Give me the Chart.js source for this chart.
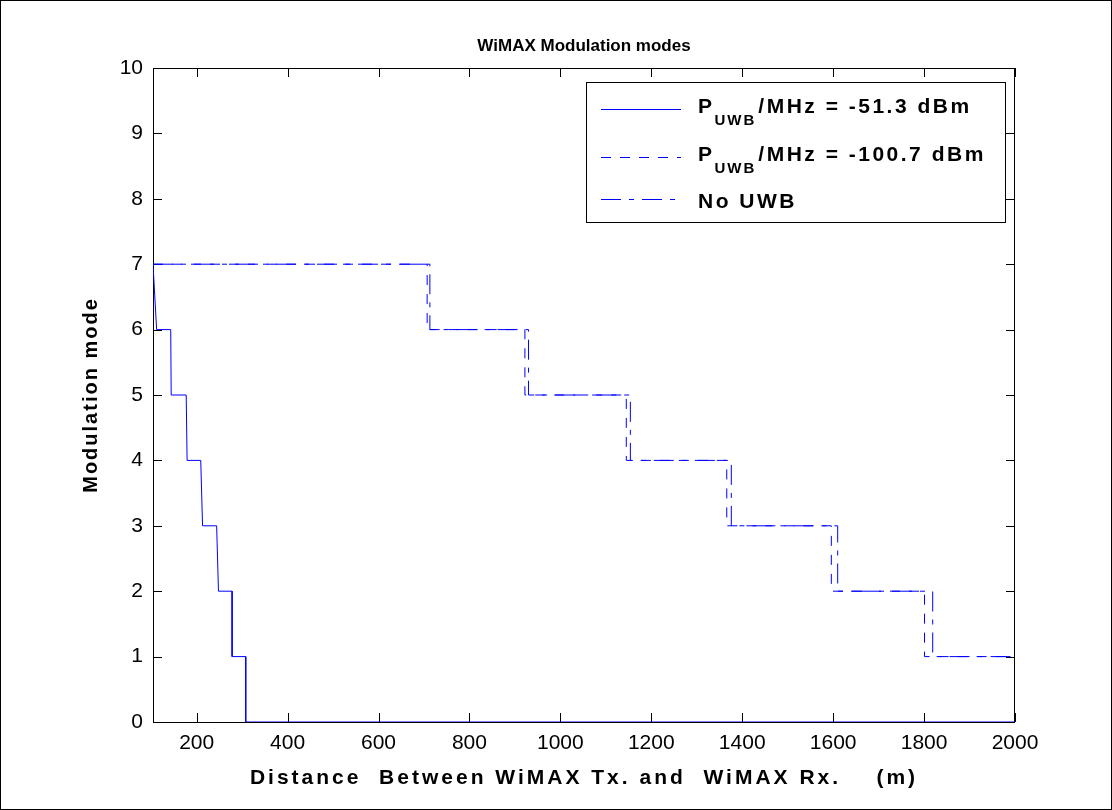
<!DOCTYPE html>
<html>
<head>
<meta charset="utf-8">
<title>WiMAX Modulation modes</title>
<script src="https://cdn.jsdelivr.net/npm/chart.js@4/dist/chart.umd.min.js"></script>
<style>
  html, body { margin: 0; padding: 0; background: #fff; }
</style>
</head>
<body>
<canvas id="modes" width="1112" height="810"></canvas>
<script>
// distance (m) / modulation mode pairs
const dist51 = [104, 112, 143, 144, 177, 179, 209, 213, 244, 248, 278, 278, 308, 308, 2000];
const mode51 = [7, 6, 6, 5, 5, 4, 4, 3, 3, 2, 2, 1, 1, 0, 0];

const dist100 = [104, 707, 707, 922, 922, 1145, 1145, 1366, 1366, 1596, 1596, 1801, 1801, 2000];
const mode100 = [7, 7, 6, 6, 5, 5, 4, 4, 3, 3, 2, 2, 1, 1];

const distNoUwb = [104, 713, 713, 930, 930, 1154, 1154, 1376, 1376, 1610, 1610, 1819, 1819, 2000];
const modeNoUwb = [7, 7, 6, 6, 5, 5, 4, 4, 3, 3, 2, 2, 1, 1];

const xTicks = [200, 400, 600, 800, 1000, 1200, 1400, 1600, 1800, 2000];
const yTicks = [0, 1, 2, 3, 4, 5, 6, 7, 8, 9, 10];

// legend entries: [main text, subscript, rest]
const legendLabels = [
  ["P", "UWB", "/MHz = -51.3 dBm"],
  ["P", "UWB", "/MHz = -100.7 dBm"],
  ["No UWB", "", ""],
];

const chartTitle = "WiMAX Modulation modes";
const xTitle = "Distance  Between WiMAX Tx. and  WiMAX Rx.    (m)";
const yTitle = "Modulation mode";

const FONT = '"Liberation Sans", Arial, Helvetica, sans-serif';
const BLUE = "#0000ff";
const dashes = [[], [10, 9], [20, 8, 5, 8]];

const toPoints = (xs, ys) => xs.map((d, i) => ({ x: d, y: ys[i] }));

const matlabBox = {
  id: "matlabBox",
  beforeDatasetsDraw(chart) {
    const { ctx, chartArea: a, scales: { x, y } } = chart;
    ctx.save();
    ctx.strokeStyle = "#000";
    ctx.lineWidth = 1;
    ctx.strokeRect(a.left + 0.5, a.top + 0.5, a.right - a.left - 1, a.bottom - a.top);
    ctx.beginPath();
    xTicks.forEach((v) => {
      const px = Math.round(x.getPixelForValue(v)) + 0.5;
      ctx.moveTo(px, a.bottom);
      ctx.lineTo(px, a.bottom - 9);
      ctx.moveTo(px, a.top);
      ctx.lineTo(px, a.top + 9);
    });
    yTicks.forEach((v) => {
      const py = Math.round(y.getPixelForValue(v)) + 0.5;
      ctx.moveTo(a.left, py);
      ctx.lineTo(a.left + 9, py);
      ctx.moveTo(a.right, py);
      ctx.lineTo(a.right - 9, py);
    });
    ctx.stroke();
    ctx.restore();
  },
  afterDraw(chart) {
    const { ctx, chartArea: a } = chart;
    const midX = (a.left + a.right) / 2;
    ctx.save();
    ctx.fillStyle = "#000";
    ctx.textBaseline = "alphabetic";
    ctx.textAlign = "center";

    // title
    ctx.font = "bold 17px " + FONT;
    ctx.letterSpacing = "0px";
    ctx.fillText(chartTitle, midX, 51);

    // axis titles (spaced out like the exported figure)
    ctx.font = "bold 21px " + FONT;
    ctx.letterSpacing = "3px";
    ctx.fillText(xTitle, midX, 784);
    ctx.font = "bold 20px " + FONT;
    ctx.letterSpacing = "2px";
    ctx.save();
    ctx.translate(97, (a.top + a.bottom) / 2);
    ctx.rotate(-Math.PI / 2);
    ctx.fillText(yTitle, 0, 0);
    ctx.restore();

    // legend box
    const bx = 586.5, by = 82.5, bw = 419, bh = 140;
    ctx.fillStyle = "#fff";
    ctx.fillRect(bx, by, bw, bh);
    ctx.strokeStyle = "#000";
    ctx.lineWidth = 1;
    ctx.strokeRect(bx, by, bw, bh);

    const lineY = [109.5, 157.5, 199.5];
    const textY = [113, 161, 208];
    ctx.textAlign = "left";
    chart.data.datasets.forEach((ds, i) => {
      ctx.strokeStyle = ds.borderColor;
      ctx.setLineDash(ds.borderDash || []);
      ctx.beginPath();
      ctx.moveTo(601, lineY[i]);
      ctx.lineTo(681, lineY[i]);
      ctx.stroke();
      ctx.setLineDash([]);

      const [main, sub, rest] = legendLabels[i];
      let tx = 698;
      ctx.fillStyle = "#000";
      ctx.font = "bold 21px " + FONT;
      ctx.letterSpacing = "2.5px";
      ctx.fillText(main, tx, textY[i]);
      tx += ctx.measureText(main).width;
      if (sub) {
        ctx.font = "bold 15px " + FONT;
        ctx.letterSpacing = "2px";
        ctx.fillText(sub, tx, textY[i] + 12);
        tx += ctx.measureText(sub).width + 2;
        ctx.font = "bold 21px " + FONT;
        ctx.letterSpacing = "2.5px";
      }
      if (rest) ctx.fillText(rest, tx, textY[i]);
    });

    // figure frame
    ctx.letterSpacing = "0px";
    ctx.strokeStyle = "#000";
    ctx.strokeRect(0.5, 0.5, 1111, 809);
    ctx.restore();
  },
};

new Chart(document.getElementById("modes"), {
  type: "line",
  data: {
    datasets: [
      { label: legendLabels[0].join(""), data: toPoints(dist51, mode51), borderDash: dashes[0] },
      { label: legendLabels[1].join(""), data: toPoints(dist100, mode100), borderDash: dashes[1] },
      { label: legendLabels[2].join(""), data: toPoints(distNoUwb, modeNoUwb), borderDash: dashes[2] },
    ].map((ds) => ({
      ...ds,
      borderColor: BLUE,
      borderWidth: 1,
      pointRadius: 0,
      tension: 0,
      fill: false,
    })),
  },
  options: {
    responsive: false,
    animation: false,
    devicePixelRatio: 1,
    layout: { padding: { left: 0, right: 97, top: 68, bottom: 0 } },
    plugins: {
      legend: { display: false },
      tooltip: { enabled: false },
      title: { display: false },
    },
    scales: {
      x: {
        type: "linear",
        min: 104,
        max: 2000,
        afterBuildTicks: (s) => { s.ticks = xTicks.map((v) => ({ value: v })); },
        afterFit: (s) => { s.height = 88; },
        ticks: {
          color: "#000",
          font: { family: FONT, size: 21 },
          padding: 9,
          maxRotation: 0,
          autoSkip: false,
          callback: (v) => String(v),
        },
        grid: { display: false, drawTicks: false },
        border: { display: false },
      },
      y: {
        type: "linear",
        min: 0,
        max: 10,
        afterBuildTicks: (s) => { s.ticks = yTicks.map((v) => ({ value: v })); },
        afterFit: (s) => { s.width = 153; },
        ticks: {
          color: "#000",
          font: { family: FONT, size: 21 },
          padding: 10,
          autoSkip: false,
          callback: (v) => String(v),
        },
        grid: { display: false, drawTicks: false },
        border: { display: false },
      },
    },
  },
  plugins: [matlabBox],
});
</script>
</body>
</html>
